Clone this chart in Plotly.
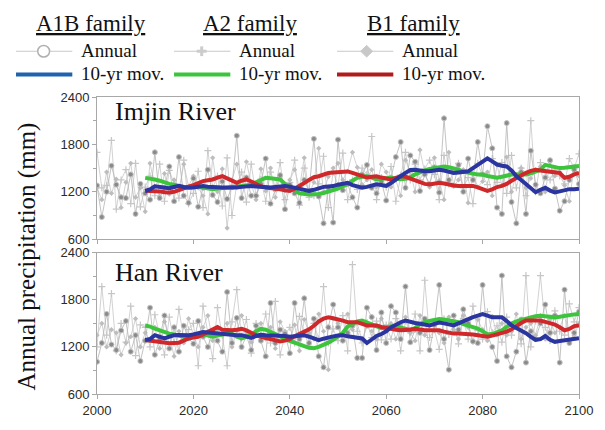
import plotly.graph_objects as go
from plotly.subplots import make_subplots

years = list(range(2000, 2101))
ma_years = list(range(2010, 2101))

# ---- Imjin River annual ----
imjin_a1b = [1280, 880, 1200, 1530, 1290, 1130, 1120, 1420, 920, 1300,
             1180, 1100, 1700, 1120, 1250, 1520, 1080, 1640, 1150, 1060,
             1370, 1010, 1250, 1480, 1160, 1070, 1330, 1110, 1260, 1910,
             1120, 1380, 1150, 1150, 1300, 1620, 1050, 1230, 1410, 980,
             1290, 1180, 1060, 1350, 1210, 1870, 1140, 800, 1250, 810,
             1860, 1220, 1300, 1130, 1000, 1420, 1540, 1250, 1180, 1330,
             1090, 1380, 1640, 1830, 1250, 1660, 1580, 1210, 1420, 1300,
             1510, 1190, 2130, 1350, 1280, 1540, 1200, 1620, 1350, 1830,
             1420, 2030, 1750, 1000, 920, 2070, 1070, 800, 1450, 920,
             1720, 1290, 1180, 1380, 1600, 1240, 960, 1080, 1350, 1480,
             1300]
imjin_a2 = [1700, 1250, 1280, 1850, 980, 1350, 1480, 1050, 1560, 1010,
            1260, 1400, 1150, 1550, 1080, 1470, 1300, 1120, 1600, 1050,
            1180, 1460, 1000, 1720, 1250, 1400, 1020, 1630, 900, 1290,
            1450, 1070, 1550, 1150, 1360, 1080, 1450, 1250, 1570, 1100,
            1320, 1600, 1030, 1500, 1130, 1150, 1300, 1650, 1000, 1450,
            1280, 1690, 1100, 1350, 1230, 1500, 1420, 1900, 1100, 1380,
            1260, 1520, 1080, 1410, 1700, 1350, 1550, 1350, 1490, 1600,
            1420, 1100, 1660, 1300, 1470, 1560, 1250, 1380, 1050, 1560,
            1400, 1290, 1620, 1320, 1570, 1180, 1660, 1250, 1500, 1150,
            2100, 1200, 1570, 1450, 1350, 1490, 1400, 1300, 1620, 1500,
            1680]
imjin_b1 = [1250, 1100, 1450, 1180, 1360, 1000, 1320, 1560, 1130, 1250,
            950, 1560, 1270, 1140, 1430, 1170, 1350, 1220, 1550, 1270,
            1400, 1250, 1150, 920, 1630, 1200, 1490, 740, 1350, 1550,
            1260, 1580, 1300, 1100, 1490, 1210, 1500, 1130, 1390, 1210,
            1350, 1480, 1250, 1630, 1170, 1320, 1750, 1200, 1390, 1500,
            1560, 1350, 1460, 1700, 1510, 1290, 1350, 1480, 1260, 1550,
            1450, 1260, 1350, 1150, 1600, 1450, 1200, 1730, 1440, 1260,
            1630, 1340, 1100, 1700, 1270, 1350, 1480, 1060, 1430, 1260,
            1330, 1450, 1150, 1540, 1280, 1640, 1200, 1420, 1500, 1250,
            1370, 1480, 1520, 1200, 1580, 1400, 1450, 1280, 1080, 1520,
            1400]

# ---- Han River annual ----
han_a1b = [1010, 1250, 1620, 1230, 1160, 1410, 1530, 1140, 1350, 1020,
           1280, 1700, 1100, 1300, 1600, 1180, 1450, 1140, 1470, 1310,
           1240, 1530, 1330, 1200, 1400, 1280, 1140, 1900, 1250, 1570,
           1200, 1340, 1160, 1470, 1280, 1080, 1760, 1250, 1420, 1370,
           1120, 1760, 1300, 1820, 1250, 1560, 1080, 940, 1450, 1740,
           1450, 1280, 1380, 1470, 1060, 1060, 1700, 1580, 1160, 1640,
           1250, 1720, 1640, 1300, 1970, 1260, 1420, 1380, 1560, 1160,
           1480, 1990, 1300, 910, 1600, 1420, 1680, 1500, 1270, 1250,
           1990, 1350, 1200, 1020, 2110, 1080, 940, 1140, 1550, 1000,
           1400, 1300, 1500, 1740, 1380, 1600, 1000, 1930, 1250, 1380,
           1650]
han_a2 = [1200, 1970, 1350, 1880, 1150, 1500, 1260, 1720, 1090, 1480,
          1450, 1200, 1610, 1350, 1100, 1580, 1250, 1680, 1300, 1420,
          1500, 960, 1720, 1380, 1050, 1700, 1350, 960, 1520, 1930,
          1310, 1550, 1120, 1500, 1360, 1620, 1250, 1780, 1100, 1350,
          1450, 1250, 1590, 1380, 1210, 1500, 1300, 1970, 1250, 1430,
          1280, 1600, 1150, 2250, 1400, 1250, 1510, 1320, 1530, 1290,
          1480, 1300, 1560, 1150, 1530, 1380, 1620, 1150, 2050, 1320,
          1420, 1170, 1560, 1360, 1490, 1240, 1560, 1300, 1720, 1410,
          1300, 1650, 1380, 1470, 1260, 1580, 1350, 1500, 1240, 2110,
          1200, 1530, 2110, 1450, 1280, 1660, 1400, 1350, 1750, 1520,
          1700]
han_b1 = [1350, 1500, 1200, 1420, 1380, 1100, 1250, 1330, 1560, 1200,
          1380, 1280, 1450, 1180, 1520, 1350, 1080, 1400, 1250, 1560,
          1350, 1200, 1450, 1600, 1280, 1420, 1350, 1500, 1200, 1400,
          1600, 1380, 1260, 1350, 1500, 1300, 1450, 1180, 1520, 1400,
          1280, 1480, 1150, 1550, 1380, 1300, 1620, 1400, 910, 1560,
          1500, 1330, 1620, 1420, 1500, 1280, 1460, 1400, 1300, 1560,
          1420, 1500, 1300, 1480, 1580, 1380, 1280, 1600, 1350, 1470,
          1500, 1380, 1250, 1580, 1420, 1300, 1600, 1450, 1260, 1550,
          1420, 1280, 1590, 1350, 1500, 1350, 1400, 1620, 1300, 1450,
          1500, 1350, 1600, 1300, 1550, 1380, 1450, 1600, 1280, 1350,
          1500]

# ---- 10-yr moving averages (2010-2100) ----
imjin_ma_a1b = [1210, 1230, 1270, 1260, 1250, 1245, 1260, 1275, 1260, 1250,
                1255, 1265, 1272, 1265, 1258, 1252, 1253, 1255, 1252, 1253,
                1262, 1270, 1273, 1268, 1260, 1255, 1253, 1262, 1270, 1272,
                1265, 1250, 1235, 1225, 1212, 1225, 1250, 1262, 1268, 1272,
                1290, 1305, 1314, 1285, 1265, 1253, 1262, 1280, 1294, 1285,
                1275, 1310, 1360, 1397, 1440, 1475, 1479, 1465, 1460, 1459,
                1468, 1479, 1470, 1450, 1438, 1445, 1455, 1459, 1500, 1545,
                1590, 1623, 1585, 1545, 1530, 1520, 1470, 1400, 1350, 1294,
                1240, 1195, 1225, 1250, 1215, 1192, 1205, 1225, 1233, 1233,
                1240]
imjin_ma_a2 = [1376, 1370, 1356, 1340, 1315, 1300, 1290, 1270, 1253, 1262,
               1270, 1273, 1255, 1240, 1232, 1240, 1250, 1253, 1258, 1265,
               1272, 1280, 1290, 1320, 1355, 1376, 1370, 1362, 1356, 1300,
               1253, 1220, 1180, 1171, 1165, 1170, 1171, 1185, 1200, 1212,
               1240, 1270, 1294, 1340, 1376, 1390, 1397, 1380, 1356, 1365,
               1372, 1376, 1365, 1358, 1365, 1385, 1420, 1450, 1470, 1490,
               1500, 1515, 1520, 1510, 1500, 1480, 1455, 1438, 1430, 1420,
               1418, 1400, 1385, 1377, 1390, 1405, 1418, 1420, 1418, 1418,
               1435, 1460, 1479, 1541, 1530, 1510, 1500, 1505, 1512, 1520,
               1525]
imjin_ma_b1 = [1212, 1212, 1212, 1205, 1195, 1191, 1200, 1225, 1245, 1265,
               1285, 1310, 1335, 1345, 1356, 1380, 1397, 1370, 1340, 1314,
               1340, 1356, 1330, 1295, 1270, 1253, 1250, 1240, 1232, 1220,
               1212, 1240, 1270, 1310, 1350, 1385, 1397, 1420, 1438, 1445,
               1452, 1458, 1458, 1440, 1417, 1395, 1380, 1390, 1397, 1380,
               1365, 1356, 1375, 1395, 1390, 1370, 1345, 1320, 1300, 1294,
               1305, 1315, 1305, 1290, 1280, 1274, 1275, 1278, 1274, 1255,
               1235, 1212, 1230, 1260, 1274, 1300, 1340, 1375, 1397, 1440,
               1465, 1479, 1470, 1459, 1450, 1440, 1438, 1377, 1390, 1420,
               1440]
han_ma_a1b = [1290, 1300, 1350, 1330, 1308, 1330, 1350, 1352, 1350, 1350,
              1360, 1375, 1391, 1385, 1378, 1372, 1370, 1360, 1350, 1350,
              1350, 1330, 1315, 1340, 1355, 1350, 1348, 1350, 1345, 1338,
              1330, 1335, 1342, 1350, 1330, 1305, 1287, 1305, 1325, 1335,
              1345, 1350, 1335, 1325, 1315, 1308, 1250, 1300, 1340, 1365,
              1400, 1450, 1490, 1515, 1536, 1515, 1505, 1495, 1480, 1475,
              1495, 1512, 1500, 1485, 1474, 1500, 1530, 1556, 1580, 1600,
              1618, 1600, 1577, 1577, 1577, 1530, 1475, 1440, 1410, 1375,
              1330, 1290, 1300, 1340, 1290, 1265, 1275, 1285, 1290, 1305,
              1310]
han_ma_a2 = [1474, 1460, 1432, 1410, 1385, 1370, 1360, 1350, 1330, 1308,
             1335, 1365, 1360, 1340, 1330, 1345, 1360, 1370, 1365, 1330,
             1310, 1325, 1350, 1400, 1432, 1420, 1395, 1365, 1335, 1300,
             1275, 1255, 1230, 1210, 1190, 1184, 1200, 1225, 1255, 1290,
             1330, 1380, 1460, 1500, 1525, 1536, 1515, 1494, 1470, 1440,
             1450, 1465, 1470, 1445, 1430, 1420, 1440, 1490, 1520, 1536,
             1548, 1556, 1550, 1540, 1536, 1515, 1490, 1474, 1455, 1435,
             1400, 1360, 1365, 1390, 1412, 1455, 1500, 1525, 1545, 1556,
             1575, 1590, 1598, 1590, 1580, 1577, 1585, 1598, 1605, 1615,
             1620]
han_ma_b1 = [1288, 1280, 1267, 1256, 1250, 1246, 1250, 1254, 1280, 1308,
             1320, 1329, 1360, 1391, 1420, 1453, 1420, 1412, 1412, 1420,
             1432, 1410, 1375, 1350, 1330, 1315, 1300, 1280, 1270, 1280,
             1300, 1335, 1365, 1395, 1425, 1470, 1525, 1560, 1577, 1565,
             1556, 1535, 1515, 1515, 1515, 1495, 1474, 1474, 1474, 1455,
             1440, 1432, 1420, 1412, 1412, 1420, 1432, 1420, 1412, 1412,
             1412, 1412, 1395, 1380, 1370, 1370, 1370, 1365, 1358, 1350,
             1340, 1329, 1345, 1360, 1370, 1395, 1425, 1470, 1505, 1536,
             1536, 1536, 1536, 1520, 1500, 1485, 1450, 1412, 1430, 1465,
             1474]

panel_names = ["Imjin River", "Han River"]
family_names = ["A1B family", "A2 family", "B1 family"]
y_ticks = [600, 1200, 1800, 2400]
x_ticks = [2000, 2020, 2040, 2060, 2080, 2100]

# page offset of the figure inside the browser window (body margin)
OFF = 8
W, H = 605 - OFF, 430 - OFF
PL, PR, PT, PB = 97, 585, 97, 402          # plot area in window pixels
ML, MR, MT, MB = PL - OFF, W - (PR - OFF), PT - OFF, H - (PB - OFF)
PW, PH = W - ML - MR, H - MT - MB

def px(x):
    return (x - OFF - ML) / PW

def py(y):
    return (H - MB - (y - OFF)) / PH

fig = make_subplots(rows=2, cols=1, shared_xaxes=False)

blue, green, red = "#2a35a0", "#3cc43c", "#d0282a"
lg_blue, lg_green, lg_red = "#1f62ad", "#3cc43c", "#b01c1c"

panels = [
    (imjin_a1b, imjin_a2, imjin_b1, imjin_ma_a1b, imjin_ma_a2, imjin_ma_b1),
    (han_a1b, han_a2, han_b1, han_ma_a1b, han_ma_a2, han_ma_b1),
]
for i, (a1b, a2, b1, ma1, ma2, mb1) in enumerate(panels, start=1):
    fig.add_trace(go.Scatter(x=years, y=a2, mode="lines+markers",
                             line=dict(color="#c6c6c6", width=0.8),
                             marker=dict(symbol="cross-thin-open", size=5,
                                         line=dict(color="#bdbdbd", width=1.2))),
                  row=i, col=1)
    fig.add_trace(go.Scatter(x=years, y=b1, mode="lines+markers",
                             line=dict(color="#c6c6c6", width=0.8),
                             marker=dict(symbol="diamond", size=4, color="#bdbdbd")),
                  row=i, col=1)
    fig.add_trace(go.Scatter(x=years, y=a1b, mode="lines+markers",
                             line=dict(color="#b4b4b4", width=0.8),
                             marker=dict(symbol="circle", size=5, color="#8a8a8a",
                                         line=dict(color="#c4c4c4", width=1))),
                  row=i, col=1)
    for ma, col in [(ma2, green), (mb1, red), (ma1, blue)]:
        fig.add_trace(go.Scatter(x=ma_years, y=ma, mode="lines",
                                 line=dict(color=col, width=4)),
                      row=i, col=1)

axis_common = dict(showline=True, linecolor="#a8a8a8", linewidth=1, mirror=True,
                   showgrid=False, zeroline=False, ticks="outside",
                   tickcolor="#a8a8a8", ticklen=4,
                   tickfont=dict(family="Liberation Sans, Arial", size=13, color="#2a2a2a"))
fig.update_xaxes(range=[2000, 2100], tickvals=x_ticks, **axis_common)
fig.update_xaxes(showticklabels=False, row=1, col=1)
fig.update_yaxes(range=[600, 2400], tickvals=y_ticks,
                 minor=dict(tickvals=[900, 1500, 2100], ticks="outside", ticklen=3,
                            tickcolor="#a8a8a8"),
                 **axis_common)

fig.update_layout(
    yaxis=dict(domain=[py(243), 1.0]),
    yaxis2=dict(domain=[0.0, py(257)]),
    width=W, height=H,
    margin=dict(l=ML, r=MR, t=MT, b=MB),
    paper_bgcolor="white", plot_bgcolor="white",
    showlegend=False,
)

serif = "Liberation Serif, Times New Roman, serif"
ann = []
ann.append(dict(text=panel_names[0], x=px(113), y=py(112), xref="paper", yref="paper",
                xanchor="left", yanchor="middle", showarrow=False,
                font=dict(family=serif, size=26, color="#111")))
ann.append(dict(text=panel_names[1], x=px(113), y=py(277), xref="paper", yref="paper",
                xanchor="left", yanchor="middle", showarrow=False,
                font=dict(family=serif, size=26, color="#111")))
ann.append(dict(text="Annual precipitation (mm)", x=px(26), y=py(261), xref="paper",
                yref="paper", xanchor="center", yanchor="middle", textangle=-90,
                showarrow=False, font=dict(family=serif, size=25, color="#111")))

# custom legend
heading_cx = [91, 252, 417]
line_x0 = [15, 175, 340]
lg_cols = [lg_blue, lg_green, lg_red]
shapes = []
for k in range(3):
    ann.append(dict(text="<u>" + family_names[k] + "</u>", x=px(heading_cx[k]), y=py(22),
                    xref="paper", yref="paper", xanchor="center", yanchor="middle",
                    showarrow=False, font=dict(family=serif, size=23, color="#111")))
    ann.append(dict(text="Annual", x=px(line_x0[k] + 64), y=py(49), xref="paper", yref="paper",
                    xanchor="left", yanchor="middle", showarrow=False,
                    font=dict(family=serif, size=19, color="#111")))
    ann.append(dict(text="10-yr mov.", x=px(line_x0[k] + 64), y=py(73), xref="paper",
                    yref="paper", xanchor="left", yanchor="middle", showarrow=False,
                    font=dict(family=serif, size=19, color="#111")))
    shapes.append(dict(type="line", xref="paper", yref="paper",
                       x0=px(line_x0[k]), x1=px(line_x0[k] + 57), y0=py(50), y1=py(50),
                       line=dict(color="#c8c8c8", width=1.2)))
    shapes.append(dict(type="line", xref="paper", yref="paper",
                       x0=px(line_x0[k]), x1=px(line_x0[k] + 57), y0=py(74), y1=py(74),
                       line=dict(color=lg_cols[k], width=4)))

# legend marker glyphs
cx = line_x0[0] + 28
shapes.append(dict(type="circle", xref="paper", yref="paper",
                   x0=px(cx - 6), x1=px(cx + 6), y0=py(56), y1=py(44),
                   line=dict(color="#b0b0b0", width=1.5), fillcolor="white"))
cx = line_x0[1] + 28
shapes.append(dict(type="line", xref="paper", yref="paper",
                   x0=px(cx - 5), x1=px(cx + 5), y0=py(50), y1=py(50),
                   line=dict(color="#cccccc", width=3)))
shapes.append(dict(type="line", xref="paper", yref="paper",
                   x0=px(cx), x1=px(cx), y0=py(55), y1=py(45),
                   line=dict(color="#cccccc", width=3)))
cx = line_x0[2] + 30
shapes.append(dict(type="path", xref="paper", yref="paper",
                   path="M {a},{b} L {c},{d} L {a},{e} L {f},{d} Z".format(
                       a=px(cx), b=py(44), c=px(cx + 6), d=py(50), e=py(56), f=px(cx - 6)),
                   line=dict(color="#c8c8c8", width=1), fillcolor="#c8c8c8"))

fig.update_layout(annotations=ann, shapes=shapes)
fig.write_html("out.html")
